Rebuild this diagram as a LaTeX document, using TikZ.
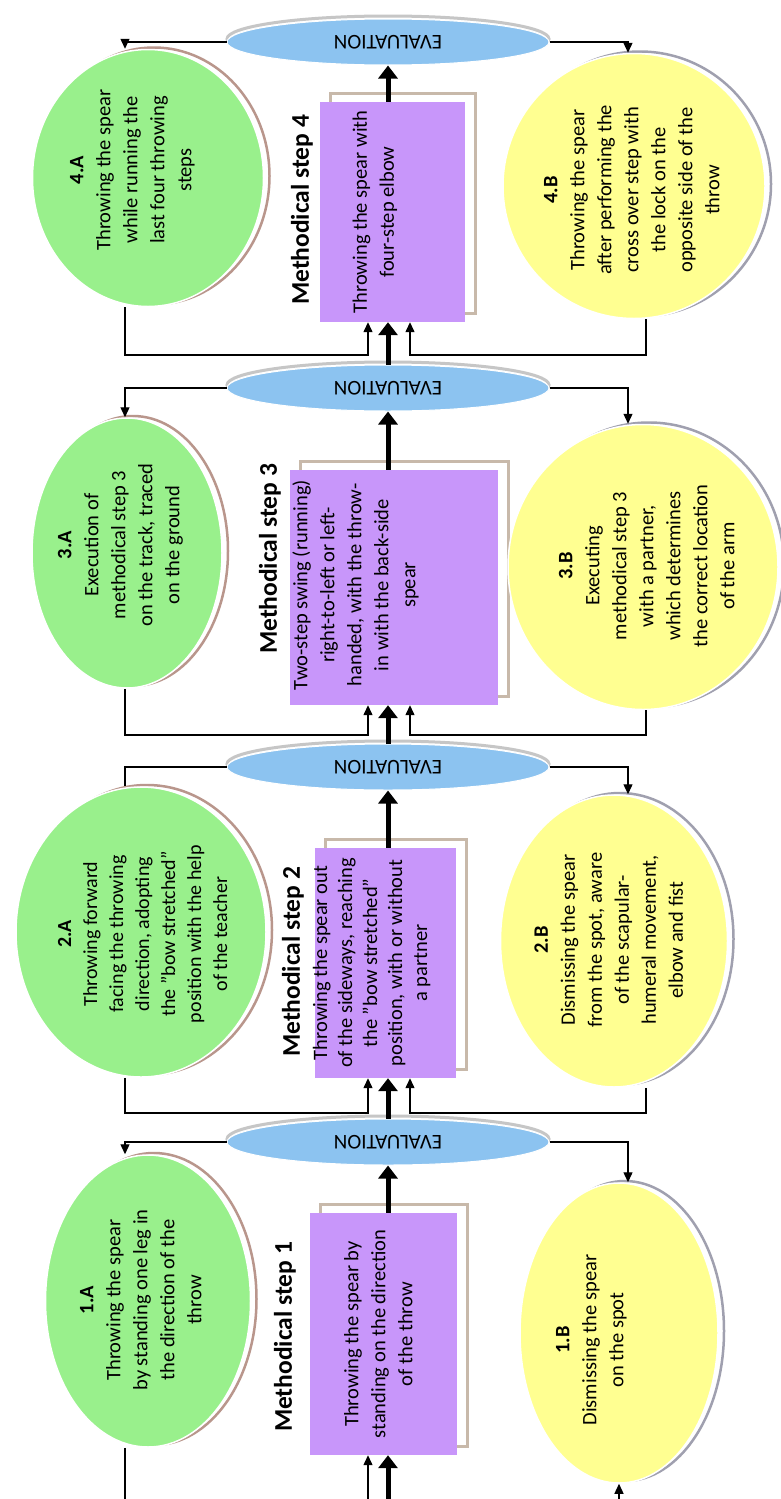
\documentclass[tikz,border=0pt]{standalone}
\usepackage{fontspec}
\setmainfont{Carlito}
\usepackage{graphicx}
\usetikzlibrary{shapes.geometric,arrows.meta}
\definecolor{greenA}{RGB}{153,240,140}
\definecolor{yellowB}{RGB}{255,255,145}
\definecolor{stepviolet}{RGB}{200,150,250}
\definecolor{evalblue}{RGB}{140,195,240}
\definecolor{edgeA}{RGB}{185,150,140}
\definecolor{edgeB}{RGB}{160,160,175}
\definecolor{boxedge}{RGB}{200,185,170}
\newcommand{\vtxt}[1]{\rotatebox{90}{\begin{tabular}{@{}c@{}}#1\end{tabular}}}
\newcommand{\evaltxt}{\rotatebox{180}{EVALUATION}}

\begin{document}
\begin{tikzpicture}[x=1pt,y=-1pt,
  ellA/.style={ellipse, inner sep=0pt, fill=greenA, draw=white, line width=1.5pt,
    preaction={draw=edgeA, line width=2.5pt, transform canvas={xshift=6pt,yshift=2pt}}},
  ellB/.style={ellipse, inner sep=0pt, fill=yellowB, draw=white, line width=1.5pt,
    preaction={draw=edgeB, line width=2.5pt, transform canvas={xshift=6pt,yshift=2pt}}},
  evalnode/.style={ellipse, inner sep=0pt, minimum width=322pt, minimum height=46pt,
    fill=evalblue, draw=white, line width=1pt, font=\fontsize{21}{24}\selectfont,
    preaction={draw=gray!45, line width=3pt, transform canvas={yshift=3pt}}},
  stepbox/.style={rectangle, inner sep=0pt, fill=stepviolet,
    preaction={fill=white, draw=boxedge, line width=3pt, transform canvas={xshift=10pt,yshift=9pt}}},
  txt/.style={inner sep=0pt, font=\fontsize{20.5}{27}\selectfont},
  steplabel/.style={inner sep=0pt, font=\bfseries\fontsize{25.5}{30}\selectfont},
  arr/.style={-{Triangle[length=10pt,width=9pt]}, line width=1.3pt},
  bigarrow/.style={-{Triangle[length=13pt,width=19pt]}, line width=5pt},
  link/.style={line width=1.3pt}]
\useasboundingbox[fill=white] (0,0) rectangle (781,1499);

% columns and joins
\coordinate (colA) at (125,0);
\coordinate (colBt) at (628,0);
\coordinate (colBb) at (646,0);
\coordinate (bot) at (0,1499);
\coordinate (j4l) at (368,355);
\coordinate (j4r) at (410,355);
\coordinate (j3l) at (368,735);
\coordinate (j3r) at (410,735);
\coordinate (j2l) at (368,1113);
\coordinate (j2r) at (410,1113);
\coordinate (j1l) at (368,1499);

% evaluations
\node[evalnode] (e4) at (388,42) {\evaltxt};
\node[evalnode] (e3) at (388,388) {\evaltxt};
\node[evalnode] (e2) at (388,767) {\evaltxt};
\node[evalnode] (e1) at (388,1142) {\evaltxt};

% methodical steps
\node[stepbox, minimum width=145pt, minimum height=220pt] (s4) at (392.5,212) {};
\node[stepbox, minimum width=208pt, minimum height=235pt] (s3) at (394,587.5) {};
\node[stepbox, minimum width=141pt, minimum height=230pt] (s2) at (385.5,963) {};
\node[stepbox, minimum width=147pt, minimum height=242pt] (s1) at (383.5,1334) {};
\node[txt] (s4t) at (375,212) {\vtxt{Throwing the spear with\\four-step elbow}};
\node[txt] (s3t) at (356,585) {\vtxt{Two-step swing (running)\\right-to-left or left-\\handed, with the throw-\\in with the back-side\\spear}};
\node[txt, font=\fontsize{20.5}{25}\selectfont] (s2t) at (372,963) {\vtxt{Throwing the spear out\\of the sideways, reaching\\the "bow stretched"\\position, with or without\\a partner}};
\node[txt] (s1t) at (380,1334) {\vtxt{Throwing the spear by\\standing on the direction\\of the throw}};
\node[steplabel] (l4) at (302,210) {\rotatebox{90}{Methodical step 4}};
\node[steplabel] (l3) at (270,559) {\rotatebox{90}{Methodical step 3}};
\node[steplabel] (l2) at (293,962) {\rotatebox{90}{Methodical step 2}};
\node[steplabel] (l1) at (285,1337) {\rotatebox{90}{Methodical step 1}};

% corrective exercises A
\node[ellA, minimum width=231pt, minimum height=257pt] (a4) at (148,178) {};
\node[ellA, minimum width=190pt, minimum height=270pt] (a3) at (127,553) {};
\node[ellA, minimum width=250pt, minimum height=290pt] (a2) at (141,932) {};
\node[ellA, minimum width=205pt, minimum height=292pt] (a1) at (148,1301) {};
\node[txt] (a4t) at (132,170) {\vtxt{\textbf{4.A}\\Throwing the spear\\while running the\\last four throwing\\steps}};
\node[txt] (a3t) at (120,545) {\vtxt{\textbf{3.A}\\Execution of\\methodical step 3\\on the track, traced\\on the ground}};
\node[txt, font=\fontsize{20}{26}\selectfont] (a2t) at (144,934) {\vtxt{\textbf{2.A}\\Throwing forward\\facing the throwing\\direction, adopting\\the "bow stretched"\\position with the help\\of the teacher}};
\node[txt] (a1t) at (142,1300) {\vtxt{\textbf{1.A}\\Throwing the spear\\by standing one leg in\\the direction of the\\throw}};

% corrective exercises B
\node[ellB, minimum width=262pt, minimum height=265pt] (b4) at (634,186) {};
\node[ellB, minimum width=270pt, minimum height=285pt] (b3) at (643,567) {};
\node[ellB, minimum width=227pt, minimum height=292pt] (b2) at (614,941) {};
\node[ellB, minimum width=198pt, minimum height=300pt] (b1) at (619,1333) {};
\node[txt] (b4t) at (633,190) {\vtxt{\textbf{4.B}\\Throwing the spear\\after performing the\\cross over step with\\the lock on the\\opposite side of the\\throw}};
\node[txt] (b3t) at (648,566) {\vtxt{\textbf{3.B}\\Executing\\methodical step 3\\with a partner,\\which determines\\the correct location\\of the arm}};
\node[txt] (b2t) at (610,940) {\vtxt{\textbf{2.B}\\Dismissing the spear\\from the spot, aware\\of the scapular-\\humeral movement,\\elbow and fist}};
\node[txt] (b1t) at (591,1340) {\vtxt{\textbf{1.B}\\Dismissing the spear\\on the spot}};

% main flow
\draw[bigarrow] (s4.north -| e4) -- (e4.south);
\draw[bigarrow] (e3.north) -- (e3 |- s4.south);
\draw[bigarrow] (s3.north -| e3) -- (e3.south);
\draw[bigarrow] (e2.north) -- (e2 |- s3.south);
\draw[bigarrow] (s2.north -| e2) -- (e2.south);
\draw[bigarrow] (e1.north) -- (e1 |- s2.south);
\draw[bigarrow] (s1.north -| e1) -- (e1.south);
\draw[bigarrow] (e1 |- bot) -- (e1 |- s1.south);

% evaluation to exercises
\draw[arr] (e4.west) -| (a4.north -| colA);
\draw[arr] (e4.east) -| (b4.north -| colBt);
\draw[arr] (e3.west) -| (a3.north -| colA);
\draw[arr] (e3.east) -| (b3.north -| colBt);
\draw[link] (e2.west) -| (a2.north -| colA);
\draw[arr] (e2.east) -| (b2.north -| colBt);
\draw[arr] (e1.west) -| (a1.north -| colA);
\draw[arr] (e1.east) -| (b1.north -| colBt);

% exercises back to steps
\draw[arr] (a4.south -| colA) |- (j4l) -- (j4l |- s4.south);
\draw[arr] (b4.south -| colBb) |- (j4r) -- (j4r |- s4.south);
\draw[arr] (a3.south -| colA) |- (j3l) -- (j3l |- s3.south);
\draw[arr] (b3.south -| colBb) |- (j3r) -- (j3r |- s3.south);
\draw[arr] (a2.south -| colA) |- (j2l) -- (j2l |- s2.south);
\draw[arr] (b2.south -| colBb) |- (j2r) -- (j2r |- s2.south);
\draw[link] (a1.south -| colA) -- (colA |- bot);
\draw[arr] (b1 |- bot) -- (b1.south);
\draw[arr] (j1l) -- (j1l |- s1.south);
\end{tikzpicture}
\end{document}
